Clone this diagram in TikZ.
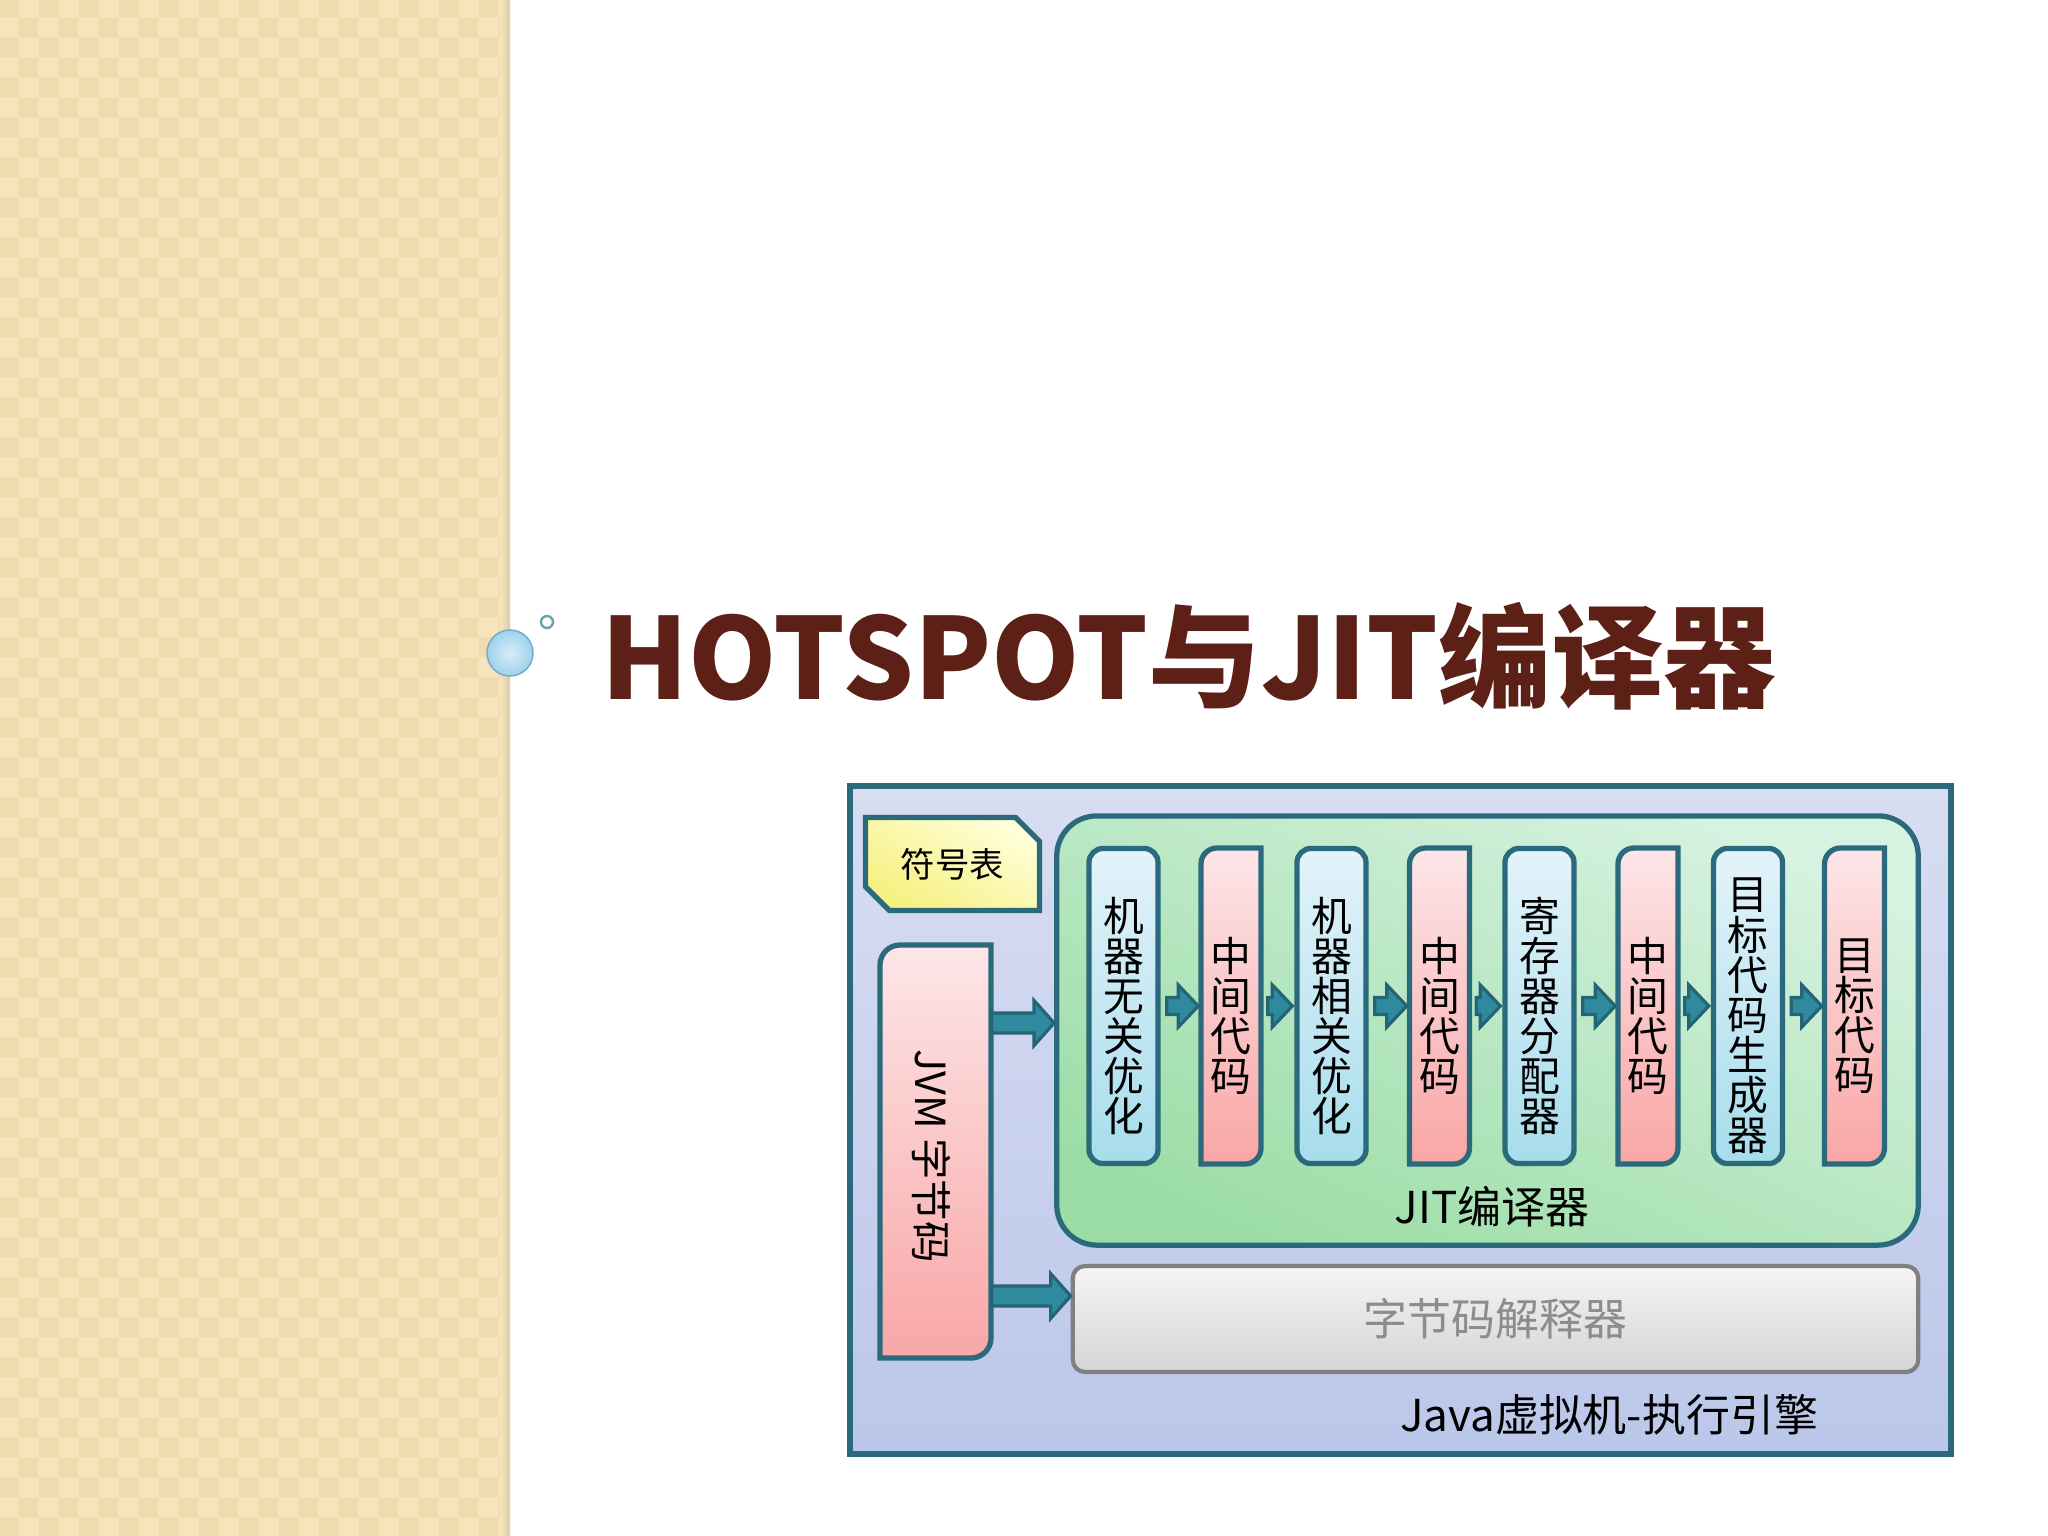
\documentclass[tikz,border=0pt]{standalone}
\usepackage{fontspec}
\setmainfont{Noto Sans CJK SC}
\usetikzlibrary{shapes.misc,patterns,calc}

\definecolor{panel}{RGB}{246,228,188}
\definecolor{panelmark}{RGB}{240,219,174}
\definecolor{panelside}{RGB}{218,204,170}
\definecolor{titlebrown}{RGB}{92,32,22}
\definecolor{edge}{RGB}{42,106,124}
\definecolor{arrowfill}{RGB}{48,138,158}
\definecolor{arrowline}{RGB}{36,100,118}
\definecolor{engTop}{RGB}{216,221,241}
\definecolor{engBot}{RGB}{187,199,234}
\definecolor{jitTop}{RGB}{214,242,224}
\definecolor{jitBot}{RGB}{156,221,166}
\definecolor{blueTop}{RGB}{228,243,250}
\definecolor{blueBot}{RGB}{166,221,236}
\definecolor{pinkTop}{RGB}{253,230,232}
\definecolor{pinkBot}{RGB}{249,166,166}
\definecolor{yellowTop}{RGB}{255,255,218}
\definecolor{yellowBot}{RGB}{246,240,128}
\definecolor{grayTop}{RGB}{245,245,245}
\definecolor{grayBot}{RGB}{212,212,212}
\definecolor{grayline}{RGB}{128,128,128}
\definecolor{graytext}{RGB}{140,140,140}
\definecolor{bubbleIn}{RGB}{214,238,249}
\definecolor{bubbleOut}{RGB}{158,210,234}
\definecolor{bubbleline}{RGB}{112,170,200}
\definecolor{ringline}{RGB}{108,164,174}

% block arrow: start, end, half shaft, half head
\newcommand\blockarrow[4]{%
  \draw[blockarr] let \p1=#1, \p2=#2 in
    (\x1,\y1+#3) -- (\x2-5.7pt,\y1+#3) -- (\x2-5.7pt,\y1+#4) -- (\x2,\y1)
    -- (\x2-5.7pt,\y1-#4) -- (\x2-5.7pt,\y1-#3) -- (\x1,\y1-#3) -- cycle;}

\begin{document}
\begin{tikzpicture}[x=0.01cm, y=-0.01cm,
  frame/.style={draw=edge, line width=1.5pt},
  colbox/.style={minimum height=3.15cm, inner sep=0pt},
  coltext/.style={inner sep=0pt, align=center, font=\fontsize{11.6}{11.4}\selectfont},
  bluecol/.style={colbox, frame, rounded corners=4pt, minimum width=0.69cm,
    top color=blueTop, bottom color=blueBot},
  pinkcol/.style={frame, top color=pinkTop, bottom color=pinkBot},
  blockarr/.style={draw=arrowline, fill=arrowfill, line width=0.9pt},
  tagtext/.style={inner sep=0pt, font=\fontsize{12.5}{13}\selectfont}]
\useasboundingbox (0,0) rectangle (2048,1536);

% background
\fill[white] (0,0) rectangle (2048,1536);
\fill[panel] (0,0) rectangle (510,1536);
\fill[pattern=checkerboard, pattern color=panelmark] (0,0) rectangle (510,1536);
\fill[left color=panel, right color=panelside] (500,0) rectangle (510,1536);

% title
\draw[bubbleline, inner color=bubbleIn, outer color=bubbleOut] (510,653) circle[radius=0.23cm];
\draw[ringline, line width=0.7pt, fill=white] (547,622) circle[radius=0.06cm];
\node[anchor=west, inner sep=0pt, text=titlebrown,
  font=\fontsize{32}{35}\selectfont\bfseries] (title) at (601,656) {HOTSPOT与JIT编译器};

% execution engine
\draw[frame, top color=engTop, bottom color=engBot] (850,786) rectangle (1951,1454);
\node[frame, chamfered rectangle, chamfered rectangle corners={north east,south west},
  chamfered rectangle xsep=0.12cm, chamfered rectangle ysep=0.12cm,
  minimum width=1.74cm, minimum height=0.93cm, inner sep=0pt,
  top color=yellowTop, bottom color=yellowBot, shading angle=-30,
  font=\fontsize{9.8}{10}\selectfont] (symtab) at (952.5,864) {符号表};

\draw[pinkcol] (880,1358) -- (880,965) arc[start angle=180, end angle=90, radius=0.2cm]
  -- (991,945) -- (991,1338) arc[start angle=0, end angle=-90, radius=0.2cm] -- cycle;
\node[minimum width=1.11cm, minimum height=4.13cm, inner sep=0pt] (jvm) at (935.5,1151.5) {};
\node[rotate=-90, inner sep=0pt, font=\fontsize{11.8}{12}\selectfont] (jvmname) at (931,1156) {JVM 字节码};

\node[frame, rounded corners=11.4pt, minimum width=8.61cm, minimum height=4.29cm,
  top color=jitTop, bottom color=jitBot, shading angle=-25] (jit) at (1487.5,1030.5) {};
\node[tagtext] (jitname) at (1492,1207) {JIT编译器};

\node[draw=grayline, line width=1.2pt, rounded corners=3.5pt, minimum width=8.45cm,
  minimum height=1.06cm, top color=grayTop, bottom color=grayBot,
  text=graytext, font=\fontsize{12.5}{13}\selectfont] (interp) at (1495.5,1319) {字节码解释器};
\node[tagtext] (engname) at (1609,1415) {Java虚拟机-执行引擎};

% compiler stages
\foreach \n/\cx/\txt in {1/1123.5/{机\\器\\无\\关\\优\\化}, 3/1331.5/{机\\器\\相\\关\\优\\化},
    5/1539.5/{寄\\存\\器\\分\\配\\器}, 7/1748/{目\\标\\代\\码\\生\\成\\器}}
{
  \node[bluecol] (c\n) at (\cx,1006) {};
  \node[coltext] (t\n) at (\cx,1016) {\txt};
}
\foreach \n/\cx/\txt in {2/1231/{中\\间\\代\\码}, 4/1439.5/{中\\间\\代\\码},
    6/1648/{中\\间\\代\\码}, 8/1854.5/{目\\标\\代\\码}}
{
  \draw[pinkcol] (\cx-30,1164) -- (\cx-30,864) arc[start angle=180, end angle=90, radius=0.16cm]
    -- (\cx+30,848) -- (\cx+30,1148) arc[start angle=0, end angle=-90, radius=0.16cm] -- cycle;
  \node[colbox, minimum width=0.6cm] (c\n) at (\cx,1006) {};
  \node[coltext] (t\n) at (\cx,1016) {\txt};
}

% arrows
\foreach \i [evaluate=\i as \j using int(\i+1)] in {1,...,7}
  \blockarrow{($(c\i.east)+(6,0)$)}{($(c\j.west)+(-2,0)$)}{2.4pt}{6pt};
\coordinate (upper) at (0,1023);
\coordinate (lower) at (0,1296);
\blockarrow{(jvm.east |- upper)}{(jit.west |- upper)}{2.85pt}{6.4pt}
\blockarrow{(jvm.east |- lower)}{(interp.west |- lower)}{2.85pt}{6.4pt}
\end{tikzpicture}
\end{document}
